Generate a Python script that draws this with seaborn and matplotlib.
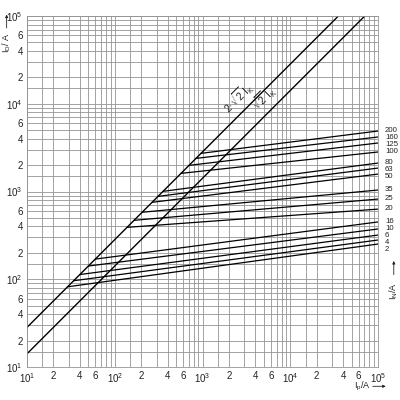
import numpy as np
import pandas as pd
import matplotlib
matplotlib.use("Agg")
import matplotlib.pyplot as plt
import matplotlib.transforms as mtransforms
import seaborn as sns

# fuse ratings I_N (A) and their cut-off lines
ratings = [2, 4, 6, 10, 16, 20, 25, 35, 50, 63, 80, 100, 125, 160, 200]
# prospective current where each line leaves the 2*sqrt(2)*Ik curve
start_ip = [29, 34, 40, 50, 60, 138, 166, 205, 266, 311, 355, 569, 702, 843, 962]
# let-through current at Ip = 1e5 A
end_id = [252, 280, 319, 374, 450, 630, 820, 1040, 1580, 1850, 2110, 2820, 3570, 4180, 4890]
end_ip = 1e5

# unlimited peak current curves
peak_names = ["2·√2 Ik", "√2 Ik"]
peak_factors = [2 * np.sqrt(2), np.sqrt(2)]

sns.set_style("white")
plt.rcParams["font.family"] = ["Liberation Sans Narrow", "Liberation Sans", "DejaVu Sans"]
plt.rcParams["mathtext.default"] = "regular"

rows = []
for r, sx, ey in zip(ratings, start_ip, end_id):
    rows.append((r, sx, peak_factors[0] * sx))
    rows.append((r, end_ip, ey))
fuse_df = pd.DataFrame(rows, columns=["IN", "ip", "id"])

drows = []
for name, f in zip(peak_names, peak_factors):
    drows.append((name, 10, 10 * f))
    drows.append((name, 1e5 / f, 1e5))
diag_df = pd.DataFrame(drows, columns=["curve", "ip", "id"])

fig = plt.figure(figsize=(4, 4), dpi=100)
ax = fig.add_axes([27 / 400, 33 / 400, 351 / 400, 351 / 400])

sns.lineplot(data=diag_df, x="ip", y="id", units="curve", estimator=None,
             color="black", linewidth=1.0, sort=False, legend=False, ax=ax)
sns.lineplot(data=fuse_df, x="ip", y="id", units="IN", estimator=None,
             color="black", linewidth=0.9, sort=False, legend=False, ax=ax)

ax.set_xscale("log")
ax.set_yscale("log")
ax.set_xlim(10, 1e5)
ax.set_ylim(10, 1e5)

grid_vals = [m * 10 ** e for e in range(1, 5) for m in (1, 1.5, 2, 3, 4, 5, 6, 7, 8, 9)] + [1e5]


def tick_text(v):
    e = int(np.floor(np.log10(v) + 1e-9))
    m = round(v / 10 ** e, 2)
    if m == 1:
        return "$10^{%d}$" % e
    if m in (2, 4, 6):
        return str(int(m))
    return ""


labels = [tick_text(v) for v in grid_vals]
ax.set_xticks(grid_vals)
ax.set_xticklabels(labels)
ax.set_yticks(grid_vals)
ax.set_yticklabels(labels)
ax.minorticks_off()
ax.tick_params(length=0, labelsize=7, colors="#222222", pad=3)
ax.grid(True, color="#949494", linewidth=0.6)
ax.set_axisbelow(True)
for s in ax.spines.values():
    s.set_color("#949494")
    s.set_linewidth(0.6)
ax.set_xlabel("")
ax.set_ylabel("")

# labels along the peak current curves
ax.annotate("2·$\\sqrt{2}$ I$_K$", xy=(3300, peak_factors[0] * 3300), xytext=(-2, 2),
            textcoords="offset points", rotation=45, rotation_mode="anchor",
            ha="center", va="bottom", fontsize=7.5)
ax.annotate("$\\sqrt{2}$ I$_K$", xy=(6430, peak_factors[1] * 6430), xytext=(-2, 2),
            textcoords="offset points", rotation=45, rotation_mode="anchor",
            ha="center", va="bottom", fontsize=7.5)

# rating labels at the right, pushed apart where lines crowd
trans = mtransforms.blended_transform_factory(ax.transAxes, ax.transData)
order = sorted(zip(end_id, ratings), reverse=True)
prev = None
min_gap = 0.082
for ey, r in order:
    ly = np.log10(ey) + 0.01
    if prev is not None and prev - ly < min_gap:
        ly = prev - min_gap
    prev = ly
    ax.text(1.02, 10 ** ly, str(r), transform=trans, ha="left", va="center",
            fontsize=5.6, color="#222222", clip_on=False)

# axis captions with arrows
ax.text(-0.058, 0.925, "I$_D$/ A", transform=ax.transAxes, rotation=90,
        ha="center", va="center", fontsize=6.5, color="#222222")
ax.annotate("", xy=(-0.058, 1.012), xytext=(-0.058, 0.958), xycoords="axes fraction",
            arrowprops=dict(arrowstyle="-|>", color="#222222", lw=0.6, mutation_scale=4))
ax.text(0.955, -0.055, "I$_p$/A", transform=ax.transAxes,
        ha="center", va="center", fontsize=6.5, color="#222222")
ax.annotate("", xy=(1.03, -0.055), xytext=(0.977, -0.055), xycoords="axes fraction",
            arrowprops=dict(arrowstyle="-|>", color="#222222", lw=0.6, mutation_scale=4))
ax.text(1.045, 0.215, "I$_N$/A", transform=ax.transAxes, rotation=90,
        ha="center", va="center", fontsize=6.5, color="#222222", clip_on=False)
ax.annotate("", xy=(1.045, 0.31), xytext=(1.045, 0.255), xycoords="axes fraction",
            arrowprops=dict(arrowstyle="-|>", color="#222222", lw=0.6, mutation_scale=4))

fig.savefig("out.png", dpi=100)
